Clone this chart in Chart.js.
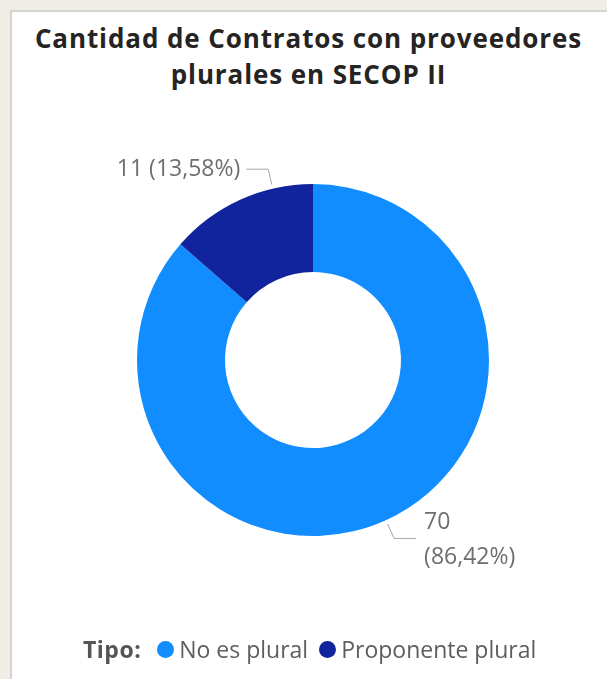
<!DOCTYPE html>
<html>
<head>
<meta charset="utf-8">
<script src="https://cdn.jsdelivr.net/npm/chart.js@4.4.0/dist/chart.umd.min.js"></script>
<style>
  html, body { margin: 0; padding: 0; }
  body { width: 607px; height: 679px; background: #efede6; overflow: hidden; position: relative; font-family: "Open Sans", sans-serif; }
  .marco { position: absolute; left: 10px; top: 10px; width: 597px; height: 669px; background: #ffffff; border-left: 2px solid #d6d4cf; border-top: 2px solid #d6d4cf; box-sizing: border-box; }
  .titulo { position: absolute; left: 10px; right: 0; top: 20px; text-align: center; font-weight: 700; font-size: 26px; letter-spacing: 0.9px; line-height: 36px; color: #252423; }
  #lienzo { position: absolute; left: 0; top: 0; }
  .leyenda { position: absolute; left: 83px; top: 633px; font-size: 23px; color: #605e5c; white-space: nowrap; display: flex; align-items: center; height: 32px; }
  .leyenda b { color: #555; margin-right: 16px; letter-spacing: 0.5px; }
  .leyenda .pto { display: inline-block; width: 17px; height: 17px; border-radius: 50%; margin-right: 5px; }
  .leyenda .item { display: inline-flex; align-items: center; margin-right: 11px; }
</style>
</head>
<body>
<div class="marco"></div>
<div class="titulo">Cantidad de Contratos con proveedores<br>plurales en SECOP II</div>
<canvas id="lienzo" width="607" height="679"></canvas>
<div class="leyenda" id="leyenda"></div>
<script>
const categorias = ['No es plural', 'Proponente plural'];
const contratos = [70, 11];
const colores = ['#118DFF', '#12239E'];

const total = contratos.reduce((a, b) => a + b, 0);
const porcentaje = v => (v / total * 100).toFixed(2).replace('.', ',') + '%';

// leyenda
let leyenda = document.querySelector('#leyenda');
let tituloLey = document.createElement('b');
tituloLey.textContent = 'Tipo:';
leyenda.appendChild(tituloLey);
categorias.forEach((cat, i) => {
  let item = document.createElement('span');
  item.className = 'item';
  let pto = document.createElement('span');
  pto.className = 'pto';
  pto.style.background = colores[i];
  item.appendChild(pto);
  item.appendChild(document.createTextNode(cat));
  leyenda.appendChild(item);
});

// etiquetas con linea guia
const etiquetasGuia = {
  id: 'etiquetasGuia',
  afterDatasetsDraw(chart, args, opts) {
    const ctx = chart.ctx;
    const meta = chart.getDatasetMeta(0);
    ctx.save();
    ctx.font = opts.fuente;
    ctx.lineWidth = 1;
    meta.data.forEach((arc, i) => {
      const p = arc.getProps(['x', 'y', 'startAngle', 'endAngle', 'outerRadius'], true);
      const f = opts.anclas[i];
      const ang = p.startAngle + (p.endAngle - p.startAngle) * f;
      const cx = Math.cos(ang), cy = Math.sin(ang);
      const x0 = p.x + (p.outerRadius + 4) * cx, y0 = p.y + (p.outerRadius + 4) * cy;
      const x1 = p.x + (p.outerRadius + 20) * cx, y1 = p.y + (p.outerRadius + 20) * cy;
      const der = cx >= 0;
      const x2 = x1 + (der ? 22 : -22);
      ctx.strokeStyle = '#a8a8a8';
      ctx.beginPath();
      ctx.moveTo(x0, y0);
      ctx.lineTo(x1, y1);
      ctx.lineTo(x2, y1);
      ctx.stroke();
      ctx.fillStyle = '#6e6e6e';
      ctx.textBaseline = 'middle';
      const valor = contratos[i];
      if (der) {
        ctx.textAlign = 'left';
        ctx.fillText(String(valor), x2 + 8, y1 - 16);
        ctx.fillText('(' + porcentaje(valor) + ')', x2 + 8, y1 + 19);
      } else {
        ctx.textAlign = 'right';
        ctx.fillText(valor + ' (' + porcentaje(valor) + ')', x2 - 6, y1);
      }
    });
    ctx.restore();
  }
};

new Chart(document.querySelector('#lienzo').getContext('2d'), {
  type: 'doughnut',
  data: {
    labels: categorias,
    datasets: [{
      data: contratos,
      backgroundColor: colores,
      borderWidth: 0,
      hoverOffset: 0
    }]
  },
  options: {
    responsive: false,
    animation: false,
    cutout: '50%',
    layout: { padding: { left: 137, right: 118, top: 184, bottom: 143 } },
    plugins: {
      legend: { display: false },
      tooltip: { enabled: false },
      etiquetasGuia: {
        fuente: '23px "Open Sans"',
        anclas: [0.5, 0.73]
      }
    }
  },
  plugins: [etiquetasGuia]
});
</script>
</body>
</html>
